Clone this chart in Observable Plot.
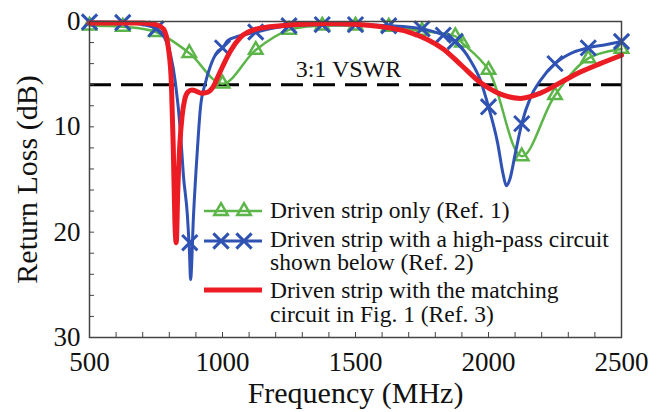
<!DOCTYPE html>
<html><head><meta charset="utf-8">
<script src="https://cdn.jsdelivr.net/npm/d3@7"></script>
<script src="https://cdn.jsdelivr.net/npm/@observablehq/plot@0.6"></script>
<style>body{margin:0;background:#fff} #chart{width:662px;height:412px}</style>
</head><body><div id="chart"></div>
<script>
// Driven strip only (Ref. 1) — line passes through its markers
const greenFreq = [500, 625, 750, 875, 1000, 1125, 1250, 1375, 1500, 1625, 1750, 1875, 1900, 2000, 2125, 2250, 2375, 2500];
const greenLoss = [0.4, 0.5, 1.0, 3.0, 5.9, 2.7, 0.8, 0.4, 0.4, 0.5, 0.9, 1.4, 2.0, 4.6, 12.8, 7.0, 3.5, 2.6];

// Driven strip with a high-pass circuit (Ref. 2) — curve
const blueFreq = [500, 625, 700, 750, 775, 790, 805, 823, 842, 853, 868, 876, 880, 891, 906, 917, 936, 955, 980, 1000, 1020, 1060, 1125, 1250, 1375, 1500, 1625, 1750, 1830, 1875, 1932, 1970, 2000, 2034, 2055, 2067, 2080, 2101, 2125, 2158, 2195, 2250, 2320, 2375, 2440, 2500];
const blueLoss = [0.05, 0.1, 0.3, 0.7, 1.2, 2.0, 3.2, 5.8, 10.5, 14.6, 18.4, 22.0, 24.5, 18.4, 12.0, 8.2, 5.8, 4.2, 2.9, 2.5, 1.8, 1.4, 1.0, 0.4, 0.3, 0.3, 0.4, 0.7, 1.3, 1.9, 3.7, 5.6, 8.1, 11.5, 14.5, 15.6, 15.0, 12.5, 9.7, 7.2, 5.6, 4.0, 2.9, 2.5, 2.2, 1.9];
// its markers
const blueMarkFreq = [500, 625, 750, 877, 1000, 1125, 1250, 1375, 1500, 1625, 1750, 1830, 1875, 2000, 2125, 2250, 2375, 2500];
const blueMarkLoss = [0.05, 0.1, 0.7, 21.0, 2.5, 1.0, 0.4, 0.3, 0.3, 0.4, 0.7, 1.3, 1.9, 8.1, 9.7, 4.0, 2.5, 1.9];

// Driven strip with the matching circuit in Fig. 1 (Ref. 3)
const redFreq = [500, 600, 700, 750, 778, 797, 808, 815, 821, 826, 832, 840, 848, 858, 870, 885, 900, 920, 945, 965, 980, 1000, 1030, 1068, 1130, 1220, 1300, 1400, 1500, 1600, 1700, 1770, 1830, 1900, 1970, 2045, 2120, 2195, 2270, 2345, 2420, 2500];
const redLoss = [0.15, 0.15, 0.15, 0.3, 0.7, 2.6, 6.0, 12.0, 19.0, 21.0, 16.0, 11.5, 9.0, 7.4, 6.7, 6.5, 6.6, 6.8, 6.7, 6.2, 5.4, 4.3, 2.8, 1.5, 0.7, 0.4, 0.25, 0.2, 0.25, 0.5, 1.0, 1.7, 2.6, 4.2, 5.8, 6.9, 7.3, 6.8, 5.8, 4.8, 4.0, 3.2];

const vswrLevel = 6;
const vswrLabel = "3:1 VSWR";
const vswrLabelFreq = 1275;

const xTickLabels = [500, 1000, 1500, 2000, 2500];
const yTickLabels = [0, 10, 20, 30];
const xMinorTicks = d3.range(600, 2500, 100);
const yMinorTicks = d3.range(2, 30, 2);

const legendLabels = [
  ["Driven strip only (Ref. 1)"],
  ["Driven strip with a high-pass circuit", "shown below (Ref. 2)"],
  ["Driven strip with the matching", "circuit in Fig. 1 (Ref. 3)"]
];

const GREEN = "#5cb548", BLUE = "#2f52b3", RED = "#ec1c24";

const toRows = (fs, ls) => fs.map((f, i) => ({f, l: ls[i]}));
const green = toRows(greenFreq, greenLoss);
const blue = toRows(blueFreq, blueLoss);
const blueMarks = toRows(blueMarkFreq, blueMarkLoss);
const red = toRows(redFreq, redLoss);

const W = 662, H = 412, ML = 89, MR = 41, MT = 21, MB = 75;
const FW = W - ML - MR, FH = H - MT - MB;

const chart = Plot.plot({
  width: W, height: H,
  marginLeft: ML, marginRight: MR, marginTop: MT, marginBottom: MB,
  style: {fontFamily: "'Liberation Serif', 'Times New Roman', serif", color: "#111", background: "#fff"},
  x: {domain: [500, 2500]},
  y: {domain: [0, 30], reverse: true},
  marks: [
    Plot.ruleY([vswrLevel], {stroke: "#000", strokeWidth: 3, strokeDasharray: "22,10"}),
    Plot.text([vswrLabel], {x: vswrLabelFreq, y: vswrLevel, text: d => d, textAnchor: "start", dy: -15, fontSize: 24, fill: "#111"}),
    Plot.tickY(yMinorTicks, {y: d => d, insetRight: FW - 5, stroke: "#444", strokeWidth: 1}),
    Plot.tickX(xMinorTicks, {x: d => d, insetTop: FH - 5, stroke: "#444", strokeWidth: 1}),
    Plot.line(green, {x: "f", y: "l", stroke: GREEN, strokeWidth: 2.5, curve: "catmull-rom"}),
    Plot.dot(green, {x: "f", y: "l", symbol: "triangle", r: 5, stroke: GREEN, strokeWidth: 2.5, fill: "none"}),
    Plot.line(blue, {x: "f", y: "l", stroke: BLUE, strokeWidth: 3, curve: "monotone-x"}),
    Plot.dot(blueMarks, {x: "f", y: "l", symbol: "times", r: 7, stroke: BLUE, strokeWidth: 3}),
    Plot.line(red, {x: "f", y: "l", stroke: RED, strokeWidth: 5, curve: "monotone-x"}),
    Plot.frame({stroke: "#444", strokeWidth: 1.5}),
    Plot.axisX(xTickLabels, {tickSize: 0, tickPadding: 14, fontSize: 27, label: null, tickFormat: d => String(d)}),
    Plot.axisY(yTickLabels, {tickSize: 0, tickPadding: 9, fontSize: 27, label: null, tickFormat: d => String(d)}),
    Plot.text(["Frequency (MHz)"], {frameAnchor: "bottom", lineAnchor: "middle", textAnchor: "middle", dy: 56, fontSize: 30, text: d => d, fill: "#111"}),
    Plot.text(["Return Loss (dB)"], {frameAnchor: "left", lineAnchor: "middle", textAnchor: "middle", dx: -62, rotate: -90, fontSize: 30, text: d => d, fill: "#111"})
  ]
});

// Legend (inside the plot area)
const svg = d3.select(chart);
const lg = svg.append("g")
  .attr("font-family", "'Liberation Serif', 'Times New Roman', serif")
  .attr("font-size", 23.5).attr("fill", "#111").attr("text-anchor", "start");
const rows = [
  {y: 211, color: GREEN, width: 2.5, kind: "triangle", baselines: [218]},
  {y: 241, color: BLUE, width: 3, kind: "times", baselines: [247, 270]},
  {y: 290, color: RED, width: 5, kind: "none", baselines: [298, 322]}
];
rows.forEach((r, i) => {
  lg.append("line").attr("x1", 204).attr("x2", 262).attr("y1", r.y).attr("y2", r.y)
    .attr("stroke", r.color).attr("stroke-width", r.width);
  if (r.kind !== "none") {
    const sym = r.kind === "triangle" ? d3.symbol(d3.symbolTriangle, Math.PI * 25) : d3.symbol(d3.symbolTimes, Math.PI * 49);
    [221, 244].forEach(cx => {
      lg.append("path").attr("d", sym()).attr("transform", `translate(${cx},${r.y})`)
        .attr("fill", "none").attr("stroke", r.color).attr("stroke-width", r.width);
    });
  }
  legendLabels[i].forEach((t, j) => {
    lg.append("text").attr("x", 270).attr("y", r.baselines[j]).attr("text-anchor", "start").text(t);
  });
});

document.getElementById("chart").appendChild(chart);
</script></body></html>
